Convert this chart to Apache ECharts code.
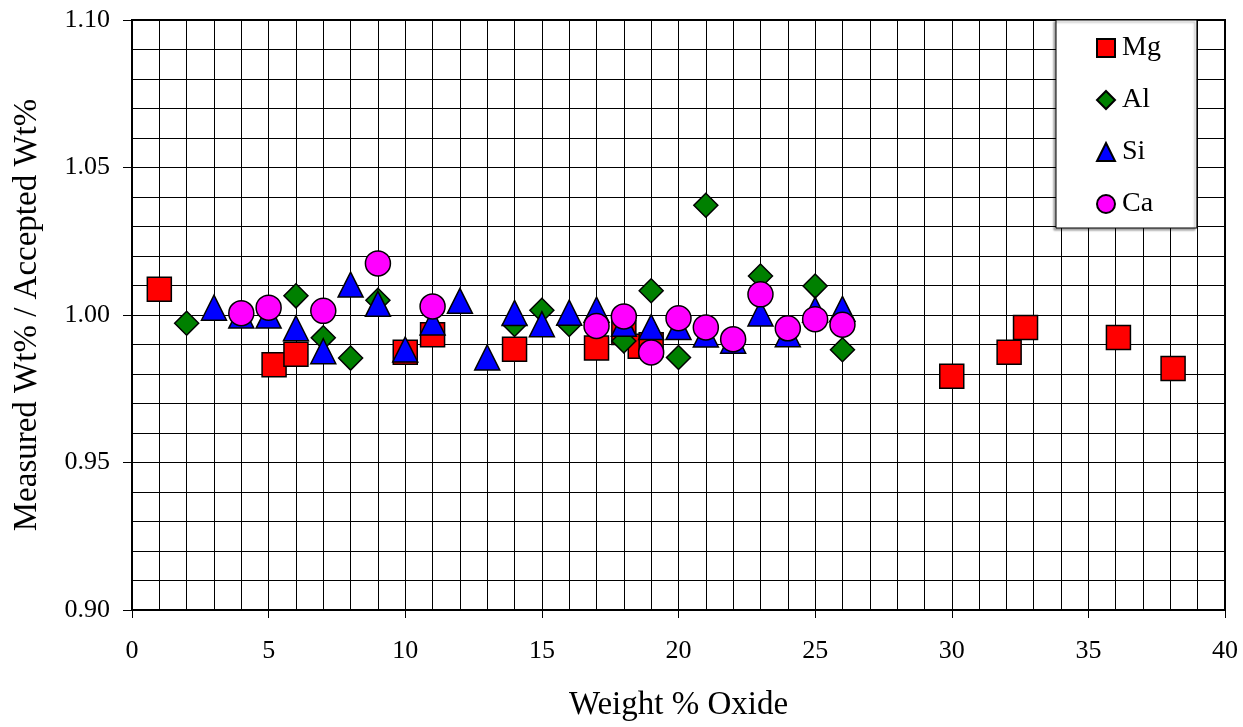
<!DOCTYPE html>
<html>
<head>
<meta charset="utf-8">
<script src="https://cdn.jsdelivr.net/npm/echarts@6/dist/echarts.min.js"></script>
<style>
html,body{margin:0;padding:0;background:#fff;}
#chart{width:1243px;height:727px;}
</style>
</head>
<body>
<div id="chart"></div>
<script>
const mgX = [1, 5.2, 6, 10, 11, 14, 17, 18, 18.6, 19, 30, 32.1, 32.7, 36.1, 38.1];
const mgY = [1.0087, 0.9831, 0.9867, 0.9874, 0.9933, 0.9884, 0.9888, 0.9941, 0.9894, 0.9899, 0.9792, 0.9874, 0.9958, 0.9924, 0.9819];

const alX = [2, 6, 7, 8, 9, 14, 15, 16, 18, 19, 20, 21, 23, 25, 26];
const alY = [0.9972, 1.0065, 0.9923, 0.9854, 1.0050, 0.9968, 1.0016, 0.9968, 0.9912, 1.0082, 0.9856, 1.0372, 1.0132, 1.0098, 0.9882];

const siX = [3, 4, 5, 6, 7, 8, 9, 10, 11, 12, 13, 14, 15, 16, 17, 18, 19, 20, 21, 22, 23, 24, 25, 26];
const siY = [1.0025, 0.9998, 0.9998, 0.9955, 0.9877, 1.0103, 1.0038, 0.9883, 0.9975, 1.0048, 0.9856, 1.0007, 0.9969, 1.0008, 1.0018, 0.9970, 0.9959, 0.9959, 0.9934, 0.9913, 1.0005, 0.9935, 1.0018, 1.0021];

const caX = [4, 5, 7, 9, 11, 17, 18, 19, 20, 21, 22, 23, 24, 25, 26];
const caY = [1.0006, 1.0025, 1.0014, 1.0175, 1.0029, 0.9963, 0.9995, 0.9873, 0.9989, 0.9958, 0.9918, 1.0070, 0.9955, 0.9986, 0.9967];

const names = ['Mg', 'Al', 'Si', 'Ca'];
const FONT = 'Liberation Serif';

function pairs(xs, ys) { return xs.map((x, i) => [x, ys[i]]); }

const styles = [
  { symbol: 'rect', size: 24, color: '#FF0000', xs: mgX, ys: mgY },
  { symbol: 'diamond', size: 24, color: '#008000', xs: alX, ys: alY },
  { symbol: 'triangle', size: 25, color: '#0000FF', xs: siX, ys: siY },
  { symbol: 'circle', size: 25, color: '#FF00FF', xs: caX, ys: caY }
];

const chart = echarts.init(document.getElementById('chart'), null, { renderer: 'canvas' });
chart.setOption({
  animation: false,
  backgroundColor: '#fff',
  textStyle: { fontFamily: FONT, color: '#000' },
  grid: {
    left: 132, right: 18, top: 20, bottom: 115,
    show: true, borderColor: '#000', borderWidth: 2, backgroundColor: '#fff'
  },
  legend: {
    orient: 'vertical',
    left: 1056, top: 20,
    padding: [14, 36, 10, 40],
    itemGap: 24,
    itemWidth: 18, itemHeight: 18,
    backgroundColor: '#fff',
    borderColor: '#000', borderWidth: 1,
    shadowColor: 'rgba(0,0,0,0.35)', shadowOffsetX: -2, shadowOffsetY: 2, shadowBlur: 2,
    textStyle: { fontFamily: FONT, fontSize: 28, color: '#000', padding: [0, 0, 0, 2] },
    data: names,
    selectedMode: false
  },
  xAxis: {
    type: 'value', min: 0, max: 40, interval: 5,
    name: 'Weight % Oxide', nameLocation: 'middle', nameGap: 79,
    nameTextStyle: { fontFamily: FONT, fontSize: 33, color: '#000' },
    axisLine: { show: true, onZero: false, lineStyle: { color: '#000', width: 2 } },
    axisTick: { show: true, inside: false, length: 8, lineStyle: { color: '#000', width: 1 } },
    minorTick: { show: false, splitNumber: 5 },
    axisLabel: { fontFamily: FONT, fontSize: 26, color: '#000', margin: 28 },
    splitLine: { show: true, lineStyle: { color: '#000', width: 1 } },
    minorSplitLine: { show: true, lineStyle: { color: '#000', width: 1 } }
  },
  yAxis: {
    type: 'value', min: 0.9, max: 1.1, interval: 0.05,
    name: 'Measured Wt% / Accepted Wt%', nameLocation: 'middle', nameGap: 88,
    nameTextStyle: { fontFamily: FONT, fontSize: 33, color: '#000' },
    axisLine: { show: true, onZero: false, lineStyle: { color: '#000', width: 2 } },
    axisTick: { show: true, inside: false, length: 9, lineStyle: { color: '#000', width: 1 } },
    minorTick: { show: false, splitNumber: 5 },
    axisLabel: { fontFamily: FONT, fontSize: 26, color: '#000', margin: 22,
      formatter: v => v.toFixed(2) },
    splitLine: { show: true, lineStyle: { color: '#000', width: 1 } },
    minorSplitLine: { show: true, lineStyle: { color: '#000', width: 1 } }
  },
  series: styles.map((s, i) => ({
    name: names[i],
    type: 'scatter',
    symbol: s.symbol,
    symbolSize: s.size,
    data: pairs(s.xs, s.ys),
    itemStyle: { color: s.color, borderColor: '#000', borderWidth: 1.5, opacity: 1 },
    emphasis: { disabled: true },
    z: 2 + i
  }))
});
</script>
</body>
</html>
